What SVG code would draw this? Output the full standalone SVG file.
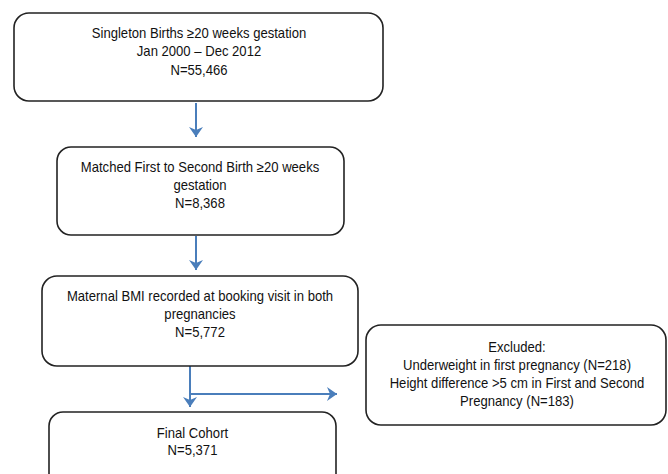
<svg xmlns="http://www.w3.org/2000/svg" width="668" height="474" viewBox="0 0 668 474">
<style>
.box{fill:#fff;stroke:#222;stroke-width:1.6}
.t{font-family:"Liberation Sans",Arial,sans-serif;font-size:14px;fill:#111;text-anchor:middle}
.c{stroke:#4a7ebb;stroke-width:2;fill:none}
</style>
<defs>
<marker id="ah" viewBox="0 0 10 14" refX="10" refY="7" markerWidth="10" markerHeight="14" markerUnits="userSpaceOnUse" orient="auto">
<path d="M0,0 L10,7 L0,14 L3,7 z" fill="#4a7ebb"/>
</marker>
</defs>
<rect width="668" height="474" fill="#fff"/>
<g id="connectors">
<path class="c" d="M196,103 V137" marker-end="url(#ah)"/>
<path class="c" d="M196,236 V270" marker-end="url(#ah)"/>
<path class="c" d="M190,366 V407" marker-end="url(#ah)"/>
<path class="c" d="M190,394 H337" marker-end="url(#ah)"/>
</g>
<g id="n1">
<rect class="box" x="14" y="13" width="369" height="88" rx="15"/>
<g transform="translate(199,0) scale(0.935,1)">
<text class="t" x="0" y="38">Singleton Births ≥20 weeks gestation</text>
<text class="t" x="0" y="56.5">Jan 2000 – Dec 2012</text>
<text class="t" x="0" y="75">N=55,466</text>
</g>
</g>
<g id="n2">
<rect class="box" x="57" y="147" width="287" height="88" rx="14"/>
<g transform="translate(200,0) scale(0.935,1)">
<text class="t" x="0" y="172">Matched First to Second Birth ≥20 weeks</text>
<text class="t" x="0" y="190">gestation</text>
<text class="t" x="0" y="208">N=8,368</text>
</g>
</g>
<g id="n3">
<rect class="box" x="42" y="276" width="316" height="90" rx="15"/>
<g transform="translate(200,0) scale(0.935,1)">
<text class="t" x="0" y="301.5">Maternal BMI recorded at booking visit in both</text>
<text class="t" x="0" y="319.5">pregnancies</text>
<text class="t" x="0" y="337.5">N=5,772</text>
</g>
</g>
<g id="n4">
<rect class="box" x="366" y="325" width="300" height="100" rx="15"/>
<g transform="translate(517,0) scale(0.935,1)">
<text class="t" x="0" y="352">Excluded:</text>
<text class="t" x="0" y="370">Underweight in first pregnancy (N=218)</text>
<text class="t" x="0" y="388">Height difference &gt;5 cm in First and Second</text>
<text class="t" x="0" y="406">Pregnancy (N=183)</text>
</g>
</g>
<g id="n5">
<rect class="box" x="49" y="412" width="287" height="80" rx="14"/>
<g transform="translate(192.5,0) scale(0.935,1)">
<text class="t" x="0" y="438">Final Cohort</text>
<text class="t" x="0" y="455">N=5,371</text>
</g>
</g>
</svg>
